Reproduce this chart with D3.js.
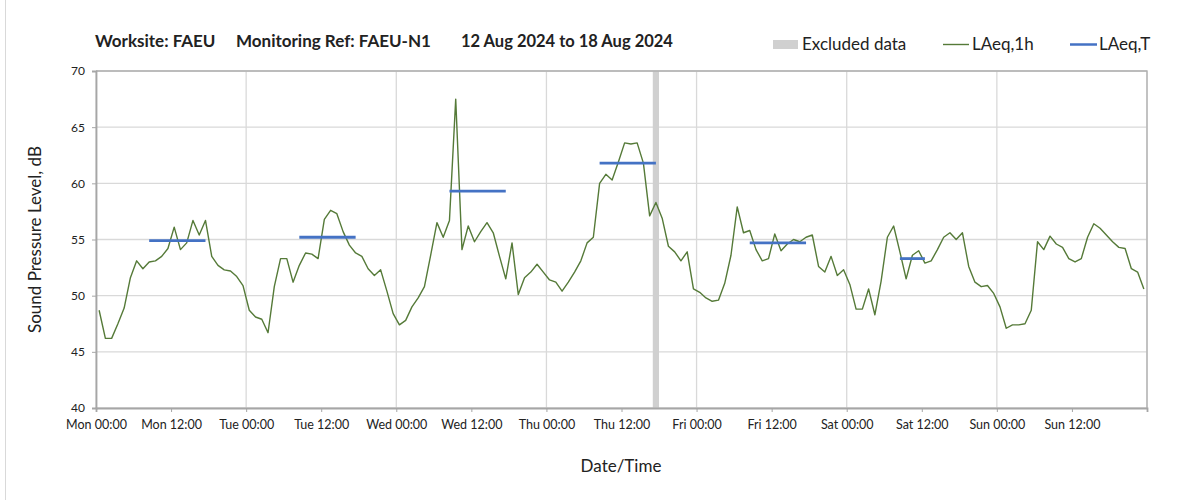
<!DOCTYPE html>
<html>
<head>
<meta charset="utf-8">
<script src="https://cdn.jsdelivr.net/npm/d3@7"></script>
<style>
  body { margin: 0; background: #fff; }
  text { font-family: Lato, "Open Sans", sans-serif; fill: #222; }
</style>
</head>
<body>
<script>
// hourly LAeq,1h values, Mon 12 Aug 00:00 -> Sun 18 Aug 23:00
const mon = [48.7,46.2,46.2,47.5,48.9,51.6,53.1,52.4,53.0,53.1,53.5,54.2,56.1,54.1,54.7,56.7,55.4,56.7,53.5,52.7,52.3,52.2,51.7,50.9]
const tue = [48.7,48.1,47.9,46.7,50.8,53.3,53.3,51.2,52.7,53.8,53.7,53.3,56.8,57.6,57.3,55.7,54.5,53.8,53.5,52.4,51.8,52.3,50.4,48.4]
const wed = [47.4,47.8,49.0,49.8,50.8,53.6,56.5,55.2,56.7,67.5,54.1,56.2,54.8,55.7,56.5,55.6,53.5,51.5,54.7,50.1,51.6,52.1,52.8,52.1]
const thu = [51.4,51.2,50.4,51.2,52.1,53.1,54.7,55.2,60.0,60.8,60.3,61.9,63.6,63.5,63.6,61.8,57.1,58.3,56.9,54.4,53.9,53.1,53.9,50.6]
const fri = [50.3,49.8,49.5,49.6,51.1,53.6,57.9,55.6,55.8,54.1,53.1,53.3,55.5,54.0,54.6,55.0,54.8,55.2,55.4,52.6,52.1,53.5,51.8,52.3]
const sat = [51.0,48.8,48.8,50.6,48.3,51.3,55.2,56.2,53.9,51.5,53.6,54.0,52.9,53.1,54.1,55.2,55.6,55.0,55.6,52.6,51.2,50.8,50.9,50.2]
const sun = [49.0,47.1,47.4,47.4,47.5,48.7,54.8,54.1,55.3,54.6,54.3,53.3,53.0,53.3,55.2,56.4,56.0,55.4,54.8,54.3,54.2,52.4,52.1,50.6]

// LAeq,T periods (day index, start hour, end hour, level)
const ltDay = [0, 1, 2, 3, 4, 5]
const ltStart = [8.5, 8.5, 8.5, 8.5, 8.5, 8.5]
const ltEnd = [17.5, 17.5, 17.5, 17.5, 17.5, 12.5]
const ltValue = [54.9, 55.2, 59.3, 61.8, 54.7, 53.3]

// excluded period (day index, start hour, end hour)
const exDay = [3]
const exStart = [17]
const exEnd = [18]

const yTicks = [40, 45, 50, 55, 60, 65, 70]

const t0 = Date.UTC(2024, 7, 12)
const HOUR = 3600 * 1000
const toDate = (day, h) => new Date(t0 + (day * 24 + h) * HOUR)

let hourly = [...mon, ...tue, ...wed, ...thu, ...fri, ...sat, ...sun]
    .map((v, i) => ({ t: new Date(t0 + (i + 0.5) * HOUR), v: v }))

let svg = d3.select('body').append('svg')
    .attr('width', 1203)
    .attr('height', 500)

let margin = { top: 71, left: 96, right: 56, bottom: 92 },
    width = 1203 - margin.left - margin.right,
    height = 500 - margin.top - margin.bottom

// faint outer frame on the left
svg.append('line')
    .attr('x1', 5.5).attr('x2', 5.5).attr('y1', 0).attr('y2', 500)
    .attr('stroke', '#d9d9d9')

let g = svg.append('g')
    .attr('transform', 'translate(' + margin.left + ',' + margin.top + ')')

let x = d3.scaleUtc()
    .domain([new Date(t0), new Date(t0 + 7 * 24 * HOUR)])
    .range([0, width])

let y = d3.scaleLinear()
    .domain([40, 70])
    .range([height, 0])

// grid
let dayTicks = d3.range(0, 8).map(d => toDate(d, 0))
g.append('g').selectAll('line')
    .data(dayTicks)
    .join('line')
    .attr('x1', d => x(d)).attr('x2', d => x(d))
    .attr('y1', 0).attr('y2', height)
    .attr('stroke', '#d9d9d9')
    .attr('stroke-width', 1.3)

g.append('g').selectAll('line')
    .data(yTicks)
    .join('line')
    .attr('x1', 0).attr('x2', width)
    .attr('y1', d => y(d)).attr('y2', d => y(d))
    .attr('stroke', '#d9d9d9')
    .attr('stroke-width', 1.3)

// excluded data band
g.append('g').selectAll('rect')
    .data(exDay)
    .join('rect')
    .attr('x', (d, i) => x(toDate(d, exStart[i])))
    .attr('width', (d, i) => x(toDate(d, exEnd[i])) - x(toDate(d, exStart[i])))
    .attr('y', 0)
    .attr('height', height)
    .attr('fill', '#d0d0d0')

// frame (top, right)
g.append('path')
    .attr('d', 'M0,0H' + width + 'V' + height)
    .attr('fill', 'none')
    .attr('stroke', '#b0b0b0')
    .attr('stroke-width', 1.3)

// axes
let xTicks = d3.range(0, 15).map(i => new Date(t0 + i * 12 * HOUR))
let fmt = d3.utcFormat('%a %H:%M')
let xAxis = g.append('g')
    .attr('transform', 'translate(0,' + height + ')')
    .call(d3.axisBottom(x).tickValues(xTicks).tickSize(4).tickPadding(8)
        .tickFormat((d, i) => i < 14 ? fmt(d) : ''))
xAxis.select('.domain').attr('stroke', '#a6a6a6').attr('stroke-width', 1.8)
xAxis.selectAll('.tick line').attr('stroke', '#a6a6a6')
xAxis.selectAll('text').attr('font-size', 12.5).style('font-family', 'Lato, sans-serif').attr('fill', '#333')

let yAxis = g.append('g')
    .call(d3.axisLeft(y).tickValues(yTicks).tickSize(4).tickPadding(7))
yAxis.select('.domain').attr('stroke', '#a6a6a6').attr('stroke-width', 1.8)
yAxis.selectAll('.tick line').attr('stroke', '#a6a6a6')
yAxis.selectAll('text').attr('font-size', 12).style('font-family', 'Lato, sans-serif').attr('fill', '#333')

// LAeq,1h line
g.append('path')
    .datum(hourly)
    .attr('fill', 'none')
    .attr('stroke', '#557a38')
    .attr('stroke-width', 1.4)
    .attr('stroke-linejoin', 'round')
    .attr('d', d3.line().x(d => x(d.t)).y(d => y(d.v)))

// LAeq,T segments
g.append('g').selectAll('line')
    .data(ltDay)
    .join('line')
    .attr('x1', (d, i) => x(toDate(d, ltStart[i])))
    .attr('x2', (d, i) => x(toDate(d, ltEnd[i])))
    .attr('y1', (d, i) => y(ltValue[i]))
    .attr('y2', (d, i) => y(ltValue[i]))
    .attr('stroke', '#4472c4')
    .attr('stroke-width', 2.8)

// titles
svg.append('text').attr('x', 95).attr('y', 47).attr('font-size', 17).attr('font-weight', 'bold')
    .text('Worksite: FAEU')
svg.append('text').attr('x', 236).attr('y', 47).attr('font-size', 17).attr('font-weight', 'bold')
    .text('Monitoring Ref: FAEU-N1')
svg.append('text').attr('x', 461).attr('y', 47).attr('font-size', 16.5).attr('font-weight', 'bold')
    .text('12 Aug 2024 to 18 Aug 2024')

svg.append('text')
    .attr('transform', 'translate(41,' + (margin.top + height / 2) + ') rotate(-90)')
    .attr('text-anchor', 'middle')
    .attr('font-size', 17)
    .text('Sound Pressure Level, dB')

svg.append('text')
    .attr('x', 621).attr('y', 472)
    .attr('text-anchor', 'middle')
    .attr('font-size', 17)
    .text('Date/Time')

// legend
let leg = svg.append('g')
leg.append('rect').attr('x', 773).attr('y', 40).attr('width', 25).attr('height', 9).attr('fill', '#d0d0d0')
leg.append('text').attr('x', 802).attr('y', 50).attr('font-size', 17).text('Excluded data')
leg.append('line').attr('x1', 943).attr('x2', 969).attr('y1', 44.5).attr('y2', 44.5)
    .attr('stroke', '#557a38').attr('stroke-width', 1.4)
leg.append('text').attr('x', 972).attr('y', 50).attr('font-size', 17).text('LAeq,1h')
leg.append('line').attr('x1', 1070).attr('x2', 1097).attr('y1', 44.5).attr('y2', 44.5)
    .attr('stroke', '#4472c4').attr('stroke-width', 2.5)
leg.append('text').attr('x', 1099).attr('y', 50).attr('font-size', 17).text('LAeq,T')
</script>
</body>
</html>
